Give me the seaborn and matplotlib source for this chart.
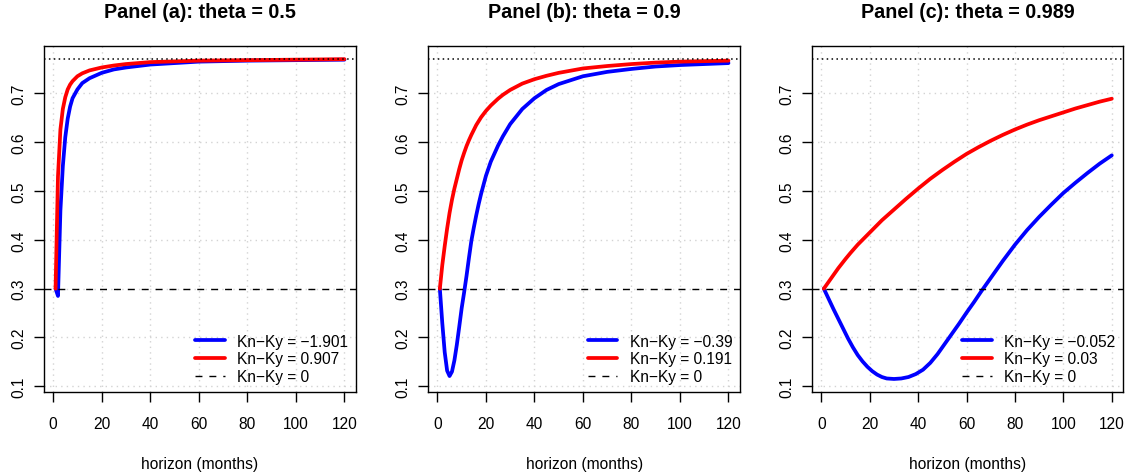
import matplotlib
matplotlib.use("Agg")
import matplotlib.pyplot as plt
import seaborn as sns
import pandas as pd

# ---- data ----
horizons_a = [1, 2, 3, 4, 5, 6, 7, 8, 10, 12, 15, 20, 25, 30, 40, 60, 80, 100, 120]
a_blue = [0.300, 0.285, 0.460, 0.551, 0.610, 0.648, 0.673, 0.690, 0.708, 0.721,
          0.731, 0.742, 0.749, 0.753, 0.759, 0.765, 0.767, 0.768, 0.769]
a_red = [0.300, 0.530, 0.626, 0.668, 0.692, 0.708, 0.718, 0.725, 0.735, 0.741,
         0.747, 0.753, 0.757, 0.760, 0.764, 0.767, 0.768, 0.769, 0.770]

horizons_b = [1, 2, 3, 4, 5, 6, 7, 8, 9, 10, 11, 12, 13, 14, 15, 16, 17, 18, 20,
              22, 25, 27, 30, 35, 40, 45, 50, 60, 70, 80, 90, 100, 110, 120]
b_blue = [0.300, 0.230, 0.170, 0.132, 0.121, 0.130, 0.153, 0.185, 0.222, 0.260,
          0.292, 0.326, 0.363, 0.398, 0.425, 0.450, 0.473, 0.494, 0.531, 0.560,
          0.593, 0.612, 0.637, 0.668, 0.690, 0.707, 0.719, 0.735, 0.744, 0.750,
          0.755, 0.758, 0.760, 0.762]
b_red = [0.300, 0.348, 0.387, 0.423, 0.455, 0.482, 0.505, 0.525, 0.545, 0.563,
         0.578, 0.592, 0.604, 0.615, 0.625, 0.635, 0.643, 0.651, 0.664, 0.675,
         0.689, 0.697, 0.707, 0.720, 0.729, 0.736, 0.742, 0.751, 0.756, 0.760,
         0.763, 0.765, 0.766, 0.767]

horizons_c_blue = [1, 3, 5, 7, 9, 11, 13, 15, 17, 19, 21, 23, 25, 27, 30, 33, 36,
                   39, 42, 45, 48, 51, 54, 57, 60, 63, 66, 70, 75, 80, 85, 90, 95,
                   100, 105, 110, 115, 120]
c_blue = [0.300, 0.279, 0.258, 0.238, 0.218, 0.198, 0.180, 0.164, 0.151, 0.140,
          0.131, 0.124, 0.119, 0.116, 0.115, 0.116, 0.119, 0.125, 0.134, 0.148,
          0.166, 0.187, 0.208, 0.229, 0.251, 0.272, 0.294, 0.322, 0.357, 0.390,
          0.420, 0.447, 0.472, 0.496, 0.517, 0.537, 0.556, 0.573]
horizons_c_red = [1, 3, 5, 7, 10, 12, 15, 20, 25, 30, 35, 40, 45, 50, 55, 60, 65,
                  70, 75, 80, 85, 90, 95, 100, 105, 110, 115, 120]
c_red = [0.300, 0.314, 0.328, 0.342, 0.361, 0.373, 0.390, 0.415, 0.440, 0.462,
         0.484, 0.505, 0.525, 0.543, 0.560, 0.576, 0.590, 0.603, 0.615, 0.626,
         0.636, 0.645, 0.653, 0.661, 0.669, 0.676, 0.683, 0.689]

titles = ["Panel (a): theta = 0.5", "Panel (b): theta = 0.9", "Panel (c): theta = 0.989"]
blue_labels = ["Kn\u2212Ky = \u22121.901", "Kn\u2212Ky = \u22120.39", "Kn\u2212Ky = \u22120.052"]
red_labels = ["Kn\u2212Ky = 0.907", "Kn\u2212Ky = 0.191", "Kn\u2212Ky = 0.03"]
zero_label = "Kn\u2212Ky = 0"
baseline = 0.3
asymptote = 0.77
x_ticks = [0, 20, 40, 60, 80, 100, 120]
y_ticks = [0.1, 0.2, 0.3, 0.4, 0.5, 0.6, 0.7]
x_label = "horizon (months)"

# ---- style ----
sns.set_style("ticks")
plt.rcParams["font.family"] = ["Liberation Sans", "DejaVu Sans"]
plt.rcParams["axes.linewidth"] = 1.0
plt.rcParams["text.color"] = "black"
plt.rcParams["axes.labelcolor"] = "black"
plt.rcParams["xtick.color"] = "black"
plt.rcParams["ytick.color"] = "black"
plt.rcParams["axes.edgecolor"] = "black"

fig = plt.figure(figsize=(11.3, 4.77), dpi=100)
lefts = [44 / 1130, 428.3 / 1130, 812.3 / 1130]
widths = [312 / 1130, 311.7 / 1130, 311 / 1130]
bottom = 84 / 477
height = 346 / 477

panels = [
    (horizons_a, a_blue, horizons_a, a_red),
    (horizons_b, b_blue, horizons_b, b_red),
    (horizons_c_blue, c_blue, horizons_c_red, c_red),
]

FS = 11.2
for i, (hb, blue, hr, red) in enumerate(panels):
    ax = fig.add_axes([lefts[i], bottom, widths[i], height])
    dfb = pd.DataFrame({"h": hb, "v": blue})
    dfr = pd.DataFrame({"h": hr, "v": red})
    ax.grid(True, color="#D3D3D3", linestyle=(0, (1, 3)), linewidth=1.0, zorder=0)
    sns.lineplot(data=dfb, x="h", y="v", color="#0000FF", linewidth=2.7,
                 ax=ax, label=blue_labels[i], zorder=3)
    sns.lineplot(data=dfr, x="h", y="v", color="#FF0000", linewidth=2.7,
                 ax=ax, label=red_labels[i], zorder=4)
    ax.axhline(baseline, color="black", linestyle=(0, (5, 5)), linewidth=1.0,
               label=zero_label, zorder=5)
    ax.axhline(asymptote, color="black", linestyle=(0, (1, 2.2)), linewidth=1.1,
               zorder=5)
    ax.set_xlim(-3.76, 124.76)
    ax.set_ylim(0.0883, 0.797)
    ax.set_xticks(x_ticks)
    ax.set_yticks(y_ticks)
    ax.set_yticklabels([f"{v:.1f}" for v in y_ticks])
    ax.tick_params(axis="both", direction="out", length=7, width=1.0,
                   labelsize=FS, colors="black")
    ax.tick_params(axis="x", pad=10)
    ax.tick_params(axis="y", pad=6)
    for lab in ax.get_yticklabels():
        lab.set_rotation(90)
        lab.set_va("center")
        lab.set_ha("right")
    for s in ax.spines.values():
        s.set_visible(True)
        s.set_color("black")
    ax.set_xlabel(x_label, fontsize=FS, labelpad=18)
    ax.set_ylabel("")
    ax.set_title(titles[i], fontsize=14.2, fontweight="bold", pad=21)
    ax.legend(loc="lower right", frameon=False, fontsize=FS, handlelength=1.9,
              handletextpad=0.8, labelspacing=0.18, borderpad=0.0,
              borderaxespad=0.5)

fig.savefig("out.png", dpi=100)
